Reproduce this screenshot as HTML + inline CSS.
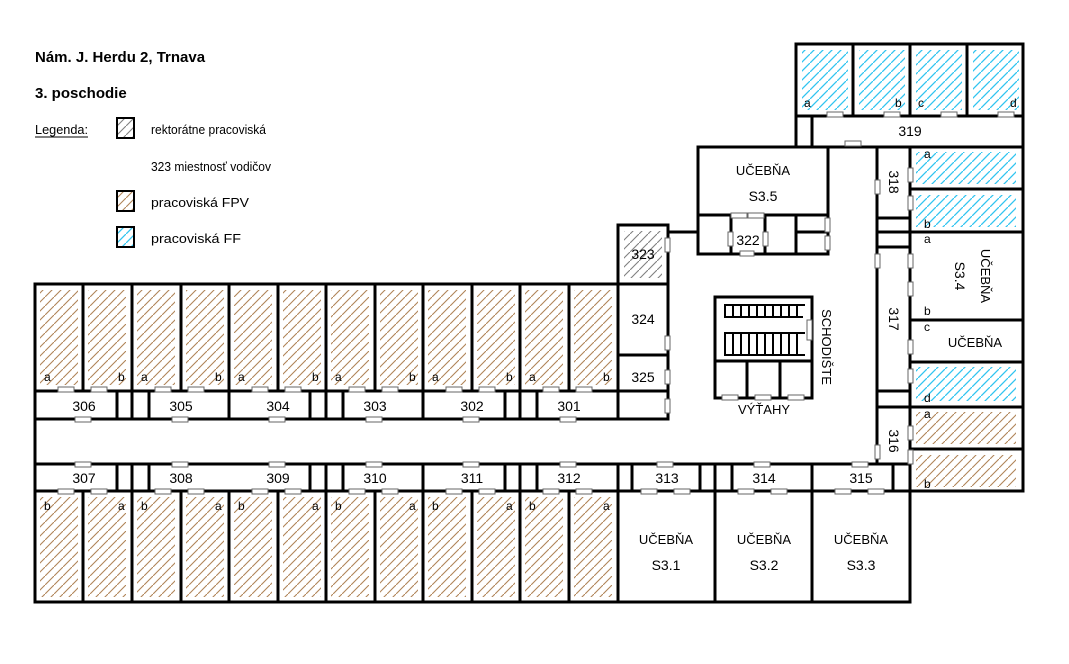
<!DOCTYPE html>
<html><head><meta charset="utf-8">
<style>
html,body{margin:0;padding:0;background:#fff;}
svg{display:block;}
text{font-family:"Liberation Sans",Arial,sans-serif;fill:#000;}
</style></head>
<body>
<svg width="1069" height="664" viewBox="0 0 1069 664" xmlns="http://www.w3.org/2000/svg">
<defs>
<pattern id="pb" width="9" height="9" patternUnits="userSpaceOnUse">
<path d="M-1,10 L10,-1" stroke="#b08458" stroke-width="1.1"/></pattern>
<pattern id="pc" width="9" height="9" patternUnits="userSpaceOnUse">
<path d="M-1,10 L10,-1" stroke="#30c4f0" stroke-width="1.3"/></pattern>
<pattern id="pg" width="9" height="9" patternUnits="userSpaceOnUse">
<path d="M-1,10 L10,-1" stroke="#808080" stroke-width="1.1"/></pattern>
</defs>

<text x="35" y="62" font-size="15" font-weight="bold">Nám. J. Herdu 2, Trnava</text>
<text x="35" y="98" font-size="15" font-weight="bold">3. poschodie</text>
<text x="35" y="134" font-size="13" textLength="53" lengthAdjust="spacingAndGlyphs">Legenda:</text>
<line x1="35" y1="137" x2="88" y2="137" stroke="#000" stroke-width="1"/>
<rect x="117" y="118" width="17" height="20" fill="url(#pg)" stroke="#000" stroke-width="2"/>
<text x="151" y="134" font-size="13" textLength="115" lengthAdjust="spacingAndGlyphs">rektorátne pracoviská</text>
<text x="151" y="171" font-size="13" textLength="120" lengthAdjust="spacingAndGlyphs">323 miestnosť vodičov</text>
<rect x="117" y="191" width="17" height="20" fill="url(#pb)" stroke="#000" stroke-width="2"/>
<text x="151" y="207" font-size="13" textLength="98" lengthAdjust="spacingAndGlyphs">pracoviská FPV</text>
<rect x="117" y="227" width="17" height="20" fill="url(#pc)" stroke="#000" stroke-width="2"/>
<text x="151" y="243" font-size="13" textLength="90" lengthAdjust="spacingAndGlyphs">pracoviská FF</text>

<g fill="url(#pb)">
<rect x="40" y="290" width="38" height="95"/><rect x="88" y="290" width="38" height="95"/>
<rect x="137" y="290" width="38" height="95"/><rect x="186" y="290" width="38" height="95"/>
<rect x="234" y="290" width="38" height="95"/><rect x="283" y="290" width="38" height="95"/>
<rect x="331" y="290" width="38" height="95"/><rect x="380" y="290" width="38" height="95"/>
<rect x="428" y="290" width="38" height="95"/><rect x="477" y="290" width="38" height="95"/>
<rect x="525" y="290" width="38" height="95"/><rect x="574" y="290" width="38" height="95"/>
<rect x="40" y="497" width="38" height="100"/><rect x="88" y="497" width="38" height="100"/>
<rect x="137" y="497" width="38" height="100"/><rect x="186" y="497" width="38" height="100"/>
<rect x="234" y="497" width="38" height="100"/><rect x="283" y="497" width="38" height="100"/>
<rect x="331" y="497" width="38" height="100"/><rect x="380" y="497" width="38" height="100"/>
<rect x="428" y="497" width="38" height="100"/><rect x="477" y="497" width="38" height="100"/>
<rect x="525" y="497" width="38" height="100"/><rect x="574" y="497" width="38" height="100"/>
<rect x="916" y="412" width="100" height="32"/><rect x="916" y="455" width="100" height="32"/>
</g>
<g fill="url(#pc)">
<rect x="802" y="50" width="46" height="60"/><rect x="859" y="50" width="46" height="60"/>
<rect x="916" y="50" width="46" height="60"/><rect x="973" y="50" width="46" height="60"/>
<rect x="916" y="152" width="100" height="32"/><rect x="916" y="195" width="100" height="32"/>
<rect x="916" y="367" width="100" height="34"/>
</g>
<rect x="624" y="231" width="38" height="47" fill="url(#pg)"/>

<g stroke="#000" stroke-width="3" fill="none" stroke-linecap="square">
<polyline points="618,284 35,284 35,602 910,602 910,491 1023,491 1023,44 796,44 796,147 698,147 698,232 668,232"/>
<rect x="618" y="225" width="50" height="194"/>
<line x1="618" y1="284" x2="618" y2="391"/>
<line x1="35" y1="391" x2="668" y2="391"/>
<line x1="35" y1="419" x2="668" y2="419"/>
<line x1="83" y1="284" x2="83" y2="391"/><line x1="132" y1="284" x2="132" y2="419"/>
<line x1="181" y1="284" x2="181" y2="391"/><line x1="229" y1="284" x2="229" y2="419"/>
<line x1="278" y1="284" x2="278" y2="391"/><line x1="326" y1="284" x2="326" y2="419"/>
<line x1="375" y1="284" x2="375" y2="391"/><line x1="423" y1="284" x2="423" y2="419"/>
<line x1="472" y1="284" x2="472" y2="391"/><line x1="520" y1="284" x2="520" y2="419"/>
<line x1="569" y1="284" x2="569" y2="391"/>
<line x1="117" y1="391" x2="117" y2="419"/><line x1="149" y1="391" x2="149" y2="419"/>
<line x1="310" y1="391" x2="310" y2="419"/><line x1="343" y1="391" x2="343" y2="419"/>
<line x1="505" y1="391" x2="505" y2="419"/><line x1="537" y1="391" x2="537" y2="419"/>
<line x1="35" y1="464" x2="910" y2="464"/>
<line x1="35" y1="491" x2="910" y2="491"/>
<line x1="83" y1="491" x2="83" y2="602"/><line x1="132" y1="464" x2="132" y2="602"/>
<line x1="181" y1="491" x2="181" y2="602"/><line x1="229" y1="491" x2="229" y2="602"/>
<line x1="278" y1="491" x2="278" y2="602"/><line x1="326" y1="464" x2="326" y2="602"/>
<line x1="375" y1="491" x2="375" y2="602"/><line x1="423" y1="464" x2="423" y2="602"/>
<line x1="472" y1="491" x2="472" y2="602"/><line x1="520" y1="464" x2="520" y2="602"/>
<line x1="569" y1="491" x2="569" y2="602"/><line x1="618" y1="464" x2="618" y2="602"/>
<line x1="715" y1="464" x2="715" y2="602"/><line x1="812" y1="464" x2="812" y2="602"/>
<line x1="117" y1="464" x2="117" y2="491"/><line x1="149" y1="464" x2="149" y2="491"/>
<line x1="310" y1="464" x2="310" y2="491"/><line x1="343" y1="464" x2="343" y2="491"/>
<line x1="505" y1="464" x2="505" y2="491"/><line x1="537" y1="464" x2="537" y2="491"/>
<line x1="632" y1="464" x2="632" y2="491"/><line x1="700" y1="464" x2="700" y2="491"/>
<line x1="732" y1="464" x2="732" y2="491"/><line x1="893" y1="464" x2="893" y2="491"/>
<line x1="828" y1="147" x2="828" y2="254"/>
<line x1="698" y1="232" x2="698" y2="254"/>
<line x1="698" y1="254" x2="828" y2="254"/>
<line x1="698" y1="215" x2="828" y2="215"/>
<line x1="731" y1="215" x2="731" y2="254"/><line x1="765" y1="215" x2="765" y2="254"/>
<line x1="796" y1="215" x2="796" y2="254"/><line x1="796" y1="232" x2="828" y2="232"/>
<line x1="796" y1="116" x2="1023" y2="116"/>
<line x1="853" y1="44" x2="853" y2="116"/><line x1="910" y1="44" x2="910" y2="116"/>
<line x1="967" y1="44" x2="967" y2="116"/>
<line x1="812" y1="116" x2="812" y2="147"/>
<line x1="796" y1="147" x2="1023" y2="147"/>
<line x1="877" y1="147" x2="877" y2="464"/>
<line x1="910" y1="147" x2="910" y2="491"/>
<line x1="877" y1="232" x2="1023" y2="232"/>
<line x1="877" y1="218" x2="910" y2="218"/>
<line x1="877" y1="247" x2="910" y2="247"/>
<line x1="877" y1="391" x2="910" y2="391"/>
<line x1="877" y1="407" x2="1023" y2="407"/>
<line x1="910" y1="189" x2="1023" y2="189"/>
<line x1="910" y1="320" x2="1023" y2="320"/>
<line x1="910" y1="362" x2="1023" y2="362"/>
<line x1="910" y1="449" x2="1023" y2="449"/>
<line x1="618" y1="284" x2="668" y2="284"/>
<line x1="618" y1="355" x2="668" y2="355"/>
<rect x="715" y="297" width="97" height="101"/>
<line x1="715" y1="361" x2="812" y2="361"/>
<line x1="747" y1="361" x2="747" y2="398"/><line x1="780" y1="361" x2="780" y2="398"/>
</g>
<g stroke="#000" stroke-width="2" fill="none">
<polyline points="805,305 725,305 725,317 803,317"/>
<polyline points="805,333 725,333 725,355 805,355"/>
<path d="M733,305v12M741,305v12M749,305v12M757,305v12M765,305v12M773,305v12M781,305v12M789,305v12M797,305v12
M733,333v22M741,333v22M749,333v22M757,333v22M765,333v22M773,333v22M781,333v22M789,333v22M797,333v22"/>
</g>

<g fill="#fff" stroke="#666" stroke-width="1">
<rect x="58" y="387" width="16" height="5"/><rect x="91" y="387" width="16" height="5"/>
<rect x="155" y="387" width="16" height="5"/><rect x="188" y="387" width="16" height="5"/>
<rect x="252" y="387" width="16" height="5"/><rect x="285" y="387" width="16" height="5"/>
<rect x="349" y="387" width="16" height="5"/><rect x="382" y="387" width="16" height="5"/>
<rect x="446" y="387" width="16" height="5"/><rect x="479" y="387" width="16" height="5"/>
<rect x="543" y="387" width="16" height="5"/><rect x="576" y="387" width="16" height="5"/>
<rect x="75" y="417" width="16" height="5"/><rect x="172" y="417" width="16" height="5"/>
<rect x="269" y="417" width="16" height="5"/><rect x="366" y="417" width="16" height="5"/>
<rect x="463" y="417" width="16" height="5"/><rect x="560" y="417" width="16" height="5"/>
<rect x="75" y="462" width="16" height="5"/><rect x="172" y="462" width="16" height="5"/>
<rect x="269" y="462" width="16" height="5"/><rect x="366" y="462" width="16" height="5"/>
<rect x="463" y="462" width="16" height="5"/><rect x="560" y="462" width="16" height="5"/>
<rect x="657" y="462" width="16" height="5"/><rect x="754" y="462" width="16" height="5"/>
<rect x="852" y="462" width="16" height="5"/>
<rect x="58" y="489" width="16" height="5"/><rect x="91" y="489" width="16" height="5"/>
<rect x="155" y="489" width="16" height="5"/><rect x="188" y="489" width="16" height="5"/>
<rect x="252" y="489" width="16" height="5"/><rect x="285" y="489" width="16" height="5"/>
<rect x="349" y="489" width="16" height="5"/><rect x="382" y="489" width="16" height="5"/>
<rect x="446" y="489" width="16" height="5"/><rect x="479" y="489" width="16" height="5"/>
<rect x="543" y="489" width="16" height="5"/><rect x="576" y="489" width="16" height="5"/>
<rect x="641" y="489" width="16" height="5"/><rect x="674" y="489" width="16" height="5"/>
<rect x="738" y="489" width="16" height="5"/><rect x="771" y="489" width="16" height="5"/>
<rect x="835" y="489" width="16" height="5"/><rect x="868" y="489" width="16" height="5"/>
<rect x="827" y="112" width="16" height="5"/><rect x="884" y="112" width="16" height="5"/>
<rect x="941" y="112" width="16" height="5"/><rect x="998" y="112" width="16" height="5"/>
<rect x="845" y="141" width="16" height="5"/>
<rect x="731" y="213" width="16" height="5"/><rect x="748" y="213" width="16" height="5"/>
<rect x="740" y="251" width="14" height="5"/>
<rect x="728" y="232" width="5" height="14"/><rect x="763" y="232" width="5" height="14"/>
<rect x="825" y="218" width="5" height="14"/><rect x="825" y="236" width="5" height="14"/>
<rect x="665" y="238" width="5" height="14"/><rect x="665" y="336" width="5" height="14"/>
<rect x="665" y="370" width="5" height="14"/><rect x="665" y="399" width="5" height="14"/>
<rect x="807" y="320" width="5" height="20"/>
<rect x="722" y="395" width="16" height="5"/><rect x="755" y="395" width="16" height="5"/>
<rect x="788" y="395" width="16" height="5"/>
<rect x="875" y="180" width="5" height="14"/><rect x="875" y="254" width="5" height="14"/>
<rect x="875" y="445" width="5" height="14"/>
<rect x="908" y="168" width="5" height="14"/><rect x="908" y="196" width="5" height="14"/>
<rect x="908" y="254" width="5" height="14"/><rect x="908" y="282" width="5" height="14"/>
<rect x="908" y="340" width="5" height="14"/><rect x="908" y="369" width="5" height="14"/>
<rect x="908" y="426" width="5" height="14"/><rect x="908" y="450" width="5" height="14"/>
</g>

<g font-size="14" text-anchor="middle">
<text x="84" y="411">306</text><text x="181" y="411">305</text><text x="278" y="411">304</text>
<text x="375" y="411">303</text><text x="472" y="411">302</text><text x="569" y="411">301</text>
<text x="84" y="483">307</text><text x="181" y="483">308</text><text x="278" y="483">309</text>
<text x="375" y="483">310</text><text x="472" y="483">311</text><text x="569" y="483">312</text>
<text x="667" y="483">313</text><text x="764" y="483">314</text><text x="861" y="483">315</text>
<text x="643" y="259">323</text><text x="643" y="324">324</text><text x="643" y="382">325</text>
<text x="748" y="245">322</text>
<text x="910" y="136">319</text>
<text x="763" y="175" font-size="13">UČEBŇA</text><text x="763" y="201">S3.5</text>
<text x="666" y="544" font-size="13">UČEBŇA</text><text x="666" y="570">S3.1</text>
<text x="764" y="544" font-size="13">UČEBŇA</text><text x="764" y="570">S3.2</text>
<text x="861" y="544" font-size="13">UČEBŇA</text><text x="861" y="570">S3.3</text>
<text x="975" y="347" font-size="13">UČEBŇA</text>
<text x="764" y="414" font-size="13">VÝŤAHY</text>
<text transform="translate(889,182) rotate(90)">318</text>
<text transform="translate(889,319) rotate(90)">317</text>
<text transform="translate(889,441) rotate(90)">316</text>
<text transform="translate(822,347) rotate(90)" font-size="13">SCHODIŠTE</text>
<text transform="translate(981,276) rotate(90)" font-size="13">UČEBŇA</text>
<text transform="translate(955,276) rotate(90)">S3.4</text>
</g>
<g font-size="12">
<text x="44" y="381">a</text><text x="118" y="381">b</text><text x="141" y="381">a</text><text x="215" y="381">b</text>
<text x="238" y="381">a</text><text x="312" y="381">b</text><text x="335" y="381">a</text><text x="409" y="381">b</text>
<text x="432" y="381">a</text><text x="506" y="381">b</text><text x="529" y="381">a</text><text x="603" y="381">b</text>
<text x="44" y="510">b</text><text x="118" y="510">a</text><text x="141" y="510">b</text><text x="215" y="510">a</text>
<text x="238" y="510">b</text><text x="312" y="510">a</text><text x="335" y="510">b</text><text x="409" y="510">a</text>
<text x="432" y="510">b</text><text x="506" y="510">a</text><text x="529" y="510">b</text><text x="603" y="510">a</text>
<text x="804" y="107">a</text><text x="895" y="107">b</text><text x="918" y="107">c</text><text x="1010" y="107">d</text>
<text x="924" y="158">a</text><text x="924" y="228">b</text><text x="924" y="243">a</text><text x="924" y="315">b</text>
<text x="924" y="331">c</text><text x="924" y="402">d</text><text x="924" y="418">a</text><text x="924" y="488">b</text>
</g>
</svg>
</body></html>
